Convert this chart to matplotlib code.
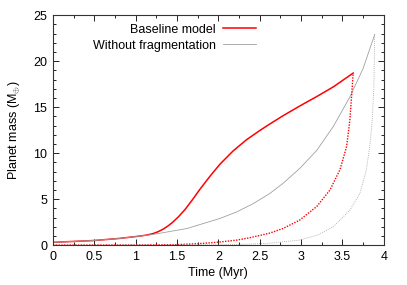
import numpy as np
import matplotlib
matplotlib.use('Agg')
import matplotlib.pyplot as plt
from matplotlib.ticker import MultipleLocator

# -Daten---------------------------------------------------------------------------------------------------------------#

# Baseline model, total mass (solid red)
base_t = [0, 0.25, 0.5, 0.81, 1.05, 1.14, 1.21, 1.27, 1.33, 1.39, 1.45, 1.52, 1.60, 1.68,
          1.78, 1.90, 2.02, 2.18, 2.34, 2.50, 2.62, 2.78, 2.98, 3.19, 3.39, 3.63]
base_m = [0.3, 0.4, 0.5, 0.73, 0.98, 1.1, 1.25, 1.45, 1.72, 2.07, 2.5, 3.1, 3.9, 4.85,
          6.1, 7.5, 8.8, 10.25, 11.45, 12.45, 13.15, 14.05, 15.1, 16.15, 17.2, 18.7]

# Baseline model, gas mass (dotted red)
base_gas_t = [0, 1.0, 1.5, 1.8, 2.0, 2.22, 2.38, 2.62, 2.78, 2.98, 3.19, 3.35, 3.47, 3.55,
              3.59, 3.61, 3.63]
base_gas_m = [0, 0.01, 0.05, 0.18, 0.32, 0.54, 0.8, 1.3, 1.8, 2.7, 4.2, 6.0, 8.2, 10.7,
              13.6, 16.1, 18.7]

# Without fragmentation, total mass (solid grey)
nofrag_t = [0, 0.25, 0.5, 0.81, 1.05, 1.21, 1.62, 2.02, 2.22, 2.42, 2.62, 2.78, 2.98, 3.19,
            3.39, 3.59, 3.75, 3.89]
nofrag_m = [0.3, 0.4, 0.5, 0.73, 0.98, 1.16, 1.8, 2.9, 3.6, 4.5, 5.6, 6.7, 8.3, 10.3,
            12.9, 16.1, 19.2, 22.9]

# Without fragmentation, gas mass (dotted grey)
nofrag_gas_t = [0, 2.0, 2.3, 2.58, 2.98, 3.2, 3.39, 3.59, 3.71, 3.79, 3.83, 3.86, 3.88, 3.89]
nofrag_gas_m = [0, 0.03, 0.09, 0.18, 0.54, 1.1, 2.0, 3.8, 5.6, 8.2, 10.7, 13.6, 17.2, 22.9]

# -Diagramm------------------------------------------------------------------------------------------------------------#

plt.rcParams['font.family'] = ['Liberation Sans', 'DejaVu Sans']
plt.rcParams['font.size'] = 9
plt.rcParams['mathtext.fontset'] = 'custom'
plt.rcParams['mathtext.rm'] = 'Liberation Sans'

fig = plt.figure(figsize=(4.07, 2.85), dpi=100)
ax = fig.add_axes([0.130, 0.140, 0.813, 0.807])

ax.plot(base_t, base_m, color='#ff0000', lw=1.1, label='Baseline model')
ax.plot(nofrag_t, nofrag_m, color='#a0a0a0', lw=0.6, label='Without fragmentation')
ax.plot(base_gas_t, base_gas_m, color='#ff0000', lw=1.0, ls=(0, (1, 1)))
ax.plot(nofrag_gas_t, nofrag_gas_m, color='#a0a0a0', lw=0.6, ls=(0, (1, 1.5)))

ax.set_xlim(0, 4)
ax.set_ylim(0, 25)
ax.set_xticks(np.arange(0, 4.01, 0.5))
ax.set_xticklabels(['0', '0.5', '1', '1.5', '2', '2.5', '3', '3.5', '4'])
ax.xaxis.set_minor_locator(MultipleLocator(0.25))
ax.yaxis.set_major_locator(MultipleLocator(5))
ax.yaxis.set_minor_locator(MultipleLocator(1))
ax.tick_params(which='both', direction='in', top=True, right=True, width=0.6, labelsize=9, pad=4)
ax.tick_params(which='major', length=4)
ax.tick_params(which='minor', length=2)
for sp in ax.spines.values():
    sp.set_linewidth(0.8)
    sp.set_color('#333333')

ax.set_xlabel('Time (Myr)', size=9, labelpad=3)
ax.set_ylabel(r'Planet mass (M$_{\oplus}$)', size=9, labelpad=8)

ax.legend(loc='upper right', bbox_to_anchor=(0.64, 1.0), frameon=False, markerfirst=False,
          handlelength=2.6, handletextpad=0.6, labelspacing=0.3, fontsize=9, borderaxespad=0.3)

plt.savefig('out.png', dpi=100)
